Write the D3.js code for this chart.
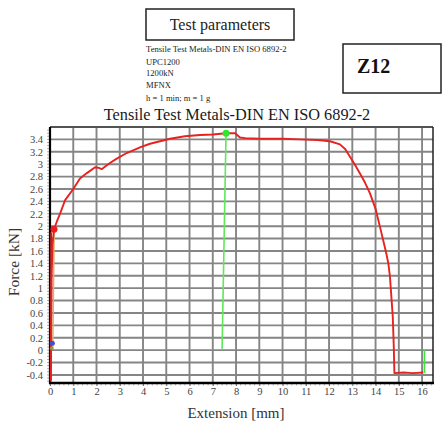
<!DOCTYPE html>
<html><head><meta charset="utf-8">
<script src="https://cdn.jsdelivr.net/npm/d3@7"></script>
<style>body{margin:0;background:#fff}svg{display:block}svg text{font-family:"Liberation Serif","Times New Roman","DejaVu Serif",serif}</style>
</head><body>
<svg id="c" width="443" height="430"></svg>
<script>
// ---- data ----
const extension = [0.04, 0.05, 0.07, 0.11, 0.17, 0.3, 0.43, 0.65, 1.0, 1.29, 1.6, 1.94, 2.1, 2.22, 2.5, 2.87, 3.3, 3.87, 4.3, 4.73, 5.16, 5.8, 6.45, 7.0, 7.57, 7.96, 8.17, 8.4, 9.03, 10.0, 10.75, 11.5, 12.04, 12.47, 12.7, 12.9, 13.1, 13.33, 13.55, 13.76, 14.0, 14.26, 14.45, 14.55, 14.62, 14.74, 14.78, 14.81, 15.2, 15.6, 16.05];
const force = [-0.5, 0.3, 1.2, 1.7, 1.95, 2.08, 2.2, 2.42, 2.6, 2.77, 2.86, 2.95, 2.94, 2.92, 3.0, 3.09, 3.18, 3.27, 3.33, 3.37, 3.41, 3.45, 3.47, 3.48, 3.50, 3.50, 3.43, 3.42, 3.41, 3.41, 3.40, 3.39, 3.37, 3.32, 3.24, 3.12, 3.0, 2.85, 2.7, 2.53, 2.28, 1.88, 1.58, 1.40, 1.18, 0.54, 0.1, -0.37, -0.36, -0.37, -0.36];
const elasticExt = [0.12, 0.18];
const elasticForce = [0.02, 1.95];
const baseExt = [0.03, 0.04];
const baseForce = [-0.5, 1.9];
const peakMarker = {ext: [7.57, 7.4], force: [3.5, 0.02]};
const endMarker = {ext: [16.1, 16.1], force: [-0.37, 0.0]};
const xTicks = [0,1,2,3,4,5,6,7,8,9,10,11,12,13,14,15,16];
const yTicks = [-0.4,-0.2,0,0.2,0.4,0.6,0.8,1,1.2,1.4,1.6,1.8,2,2.2,2.4,2.6,2.8,3,3.2,3.4];
const title = "Tensile Test Metals-DIN EN ISO 6892-2";
const xLabel = "Extension [mm]";
const yLabel = "Force [kN]";
const paramsTitle = "Test parameters";
const paramLines = ["Tensile Test Metals-DIN EN ISO 6892-2", "UPC1200", "1200kN", "MFNX", "h = 1 min; m = 1 g"];
const specimen = "Z12";

// ---- layout ----
const svg = d3.select("#c");
const L = 50, R = 433, T = 127, B = 383;
const x = d3.scaleLinear().domain([0, 16.47]).range([L, R]);
const y = d3.scaleLinear().domain([-0.53, 3.6]).range([B, T]);

// header box
svg.append("rect").attr("x",146).attr("y",9).attr("width",148).attr("height",31)
  .attr("fill","none").attr("stroke","#222").attr("stroke-width",1.5);
svg.append("text").attr("x",220).attr("y",30).attr("text-anchor","middle")
  .attr("font-size",16).attr("fill","#222").text(paramsTitle);
svg.selectAll("text.pl").data(paramLines).join("text").attr("class","pl")
  .attr("x",146).attr("y",(d,i)=>[52,64.5,76,88,101][i])
  .attr("font-size",8.6).attr("fill","#222").text(d=>d);

svg.append("rect").attr("x",343).attr("y",44).attr("width",98).attr("height",49)
  .attr("fill","none").attr("stroke","#222").attr("stroke-width",1.5);
svg.append("text").attr("x",357).attr("y",73)
  .attr("font-weight","bold").attr("font-size",20).attr("fill","#111").text(specimen);

// title
svg.append("text").attr("x",237).attr("y",120).attr("text-anchor","middle")
  .attr("font-size",16.3).attr("fill","#1a1a1a").text(title);

// grid
const gridY = d3.range(-0.4, 3.61, 0.2);
svg.append("g").selectAll("line").data(gridY).join("line")
  .attr("x1",L).attr("x2",R).attr("y1",d=>y(d)).attr("y2",d=>y(d))
  .attr("stroke","#858585").attr("stroke-width",1.9);
svg.append("g").selectAll("line").data(xTicks.slice(1)).join("line")
  .attr("y1",T).attr("y2",B).attr("x1",d=>x(d)).attr("x2",d=>x(d))
  .attr("stroke","#858585").attr("stroke-width",1.9);

// border
svg.append("line").attr("x1",L).attr("x2",R).attr("y1",T).attr("y2",T).attr("stroke","#222").attr("stroke-width",1.2);
svg.append("line").attr("x1",R).attr("x2",R).attr("y1",T).attr("y2",B).attr("stroke","#222").attr("stroke-width",1.5);

// axes
const xAxis = d3.axisBottom(x).tickValues(xTicks).tickFormat(d3.format("d")).tickSize(3).tickPadding(2);
const gx = svg.append("g").attr("transform",`translate(0,${B})`).call(xAxis);
gx.attr("font-family",null);
gx.select(".domain").remove();
gx.selectAll("text").attr("font-size",10.5).attr("fill","#444");
gx.selectAll(".tick line").attr("stroke","#666");
svg.append("g").attr("transform",`translate(0,${B})`).selectAll("line")
  .data(d3.range(0, 16.41, 0.2)).join("line")
  .attr("x1",d=>x(d)).attr("x2",d=>x(d)).attr("y1",0).attr("y2",2.5)
  .attr("stroke","#999").attr("stroke-width",0.8);

const yAxis = d3.axisLeft(y).tickValues(yTicks).tickFormat(d=>String(+d.toFixed(1))).tickSize(0).tickPadding(7);
const gy = svg.append("g").attr("transform",`translate(${L},0)`).call(yAxis);
gy.attr("font-family",null);
gy.select(".domain").remove();
gy.selectAll("text").attr("font-size",10.5).attr("fill","#444");
svg.append("g").attr("transform",`translate(${L},0)`).selectAll("line")
  .data(d3.range(-0.5, 3.6, 0.05)).join("line")
  .attr("y1",d=>y(d)).attr("y2",d=>y(d)).attr("x1",-3).attr("x2",0)
  .attr("stroke","#999").attr("stroke-width",0.8);

svg.append("line").attr("x1",L).attr("x2",L).attr("y1",T).attr("y2",B+1).attr("stroke","#000").attr("stroke-width",2.2);
svg.append("line").attr("x1",L-1).attr("x2",R+1).attr("y1",B).attr("y2",B).attr("stroke","#000").attr("stroke-width",2.6);

// labels
svg.append("text").attr("x",236).attr("y",418).attr("text-anchor","middle")
  .attr("font-size",15).attr("fill","#333").text(xLabel);
svg.append("text").attr("transform","translate(19,262) rotate(-90)").attr("text-anchor","middle")
  .attr("font-size",15.5).attr("fill","#333").text(yLabel);

// curves
const line = d3.line().x(d=>x(d[0])).y(d=>y(d[1]));
svg.append("path").datum(d3.zip(elasticExt, elasticForce)).attr("d",line)
  .attr("fill","none").attr("stroke","#d8b46a").attr("stroke-width",1.5);
svg.append("path").datum(d3.zip(baseExt, baseForce)).attr("d",line)
  .attr("fill","none").attr("stroke","#9b2020").attr("stroke-width",2);
svg.append("path").datum(d3.zip(extension, force)).attr("d",line)
  .attr("fill","none").attr("stroke","#e8221f").attr("stroke-width",1.9).attr("stroke-linejoin","round");
svg.append("path").datum(d3.zip(peakMarker.ext, peakMarker.force)).attr("d",line)
  .attr("fill","none").attr("stroke","#5ee85a").attr("stroke-width",1.6);
svg.append("path").datum(d3.zip(endMarker.ext, endMarker.force)).attr("d",line)
  .attr("fill","none").attr("stroke","#3ee83a").attr("stroke-width",1.6);

// points
svg.append("circle").attr("cx",x(7.57)).attr("cy",y(3.5)).attr("r",3.5).attr("fill","#2ee82a");
svg.append("circle").attr("cx",x(0.17)).attr("cy",y(1.95)).attr("r",3.5).attr("fill","#ee1c1c");
svg.append("circle").attr("cx",x(0.1)).attr("cy",y(0.11)).attr("r",2.5).attr("fill","#4a4ad0");
svg.append("circle").attr("cx",x(0.07)).attr("cy",y(0.03)).attr("r",1.8).attr("fill","#8a9a40");
</script>
</body></html>
